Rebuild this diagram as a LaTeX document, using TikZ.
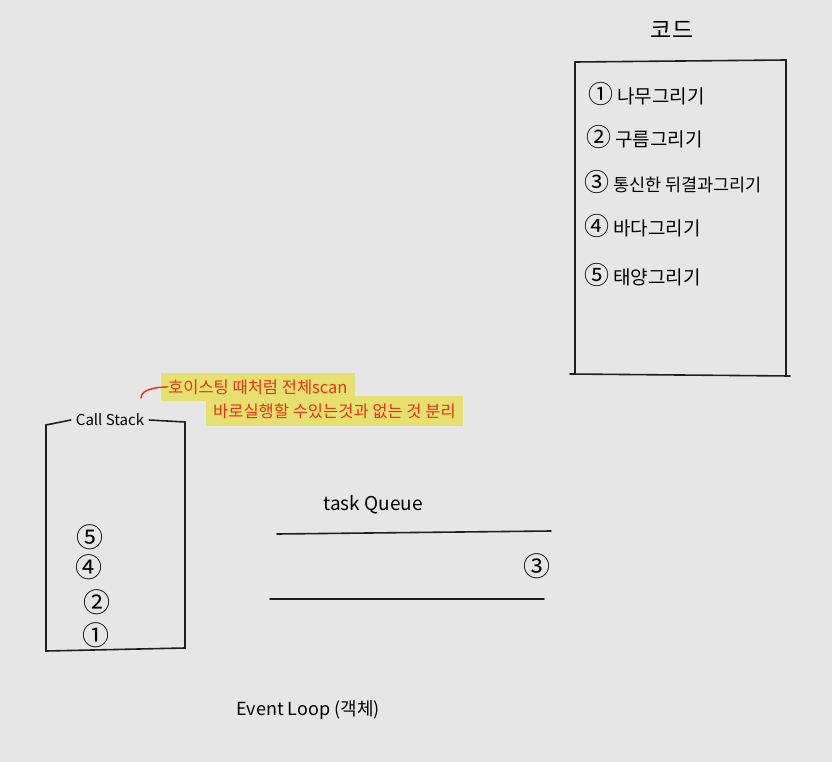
\documentclass[tikz,border=0pt]{standalone}
\usepackage{fontspec}
\setmainfont{Noto Sans CJK KR}
\usepackage{xcolor}
\usetikzlibrary{positioning,calc}
\definecolor{paper}{RGB}{230,230,230}
\definecolor{marker}{RGB}{230,224,112}
\definecolor{pen}{RGB}{238,48,22}
\newcommand\cnum[1]{{\fontsize{25}{25}\selectfont #1}}

\begin{document}
\begin{tikzpicture}[
  x=1pt, y=-1pt,
  font=\fontsize{19}{22}\selectfont,
  hand/.style={line width=1.6pt, line cap=round, black!88},
  item/.style={anchor=west, inner sep=1pt},
  num/.style={inner sep=0pt, font=\fontsize{27}{27}\selectfont},
  note/.style={text=pen, fill=marker, anchor=west, inner xsep=7pt, inner ysep=7pt, font=\fontsize{16.5}{19}\selectfont}
]
\fill[paper] (0,0) rectangle (832,762);
\useasboundingbox (0,0) rectangle (832,762);

% Code list
\node[font=\fontsize{23}{25}\selectfont] (code) at (672,30) {코드};
\draw[hand] (575,62) -- (786,60);
\draw[hand] (575,62) -- (575,374);
\draw[hand] (786,60) -- (786,375);
\draw[hand] (570,374) -- (790,376);
\node[item] (c1) at (587,94) {\cnum{①} 나무그리기};
\node[item] (c2) at (585,137) {\cnum{②} 구름그리기};
\node[item, font=\fontsize{17.5}{22}\selectfont] (c3) at (583,182) {\cnum{③} 통신한 뒤결과그리기};
\node[item] (c4) at (583,226) {\cnum{④} 바다그리기};
\node[item] (c5) at (583,275) {\cnum{⑤} 태양그리기};

% Note
\node[note] (n1) at (161,387) {호이스팅 때처럼 전체scan};
\node[note] (n2) at (206,411) {바로실행할 수있는것과 없는 것 분리};
\coordinate (lead) at (141,398);
\draw[pen, line width=1.4pt, line cap=round] (n1.west) ++(7,0) .. controls +(-14,0) and +(0,-8) .. (lead);

% Call Stack
\node[font=\fontsize{15}{18}\selectfont, inner xsep=5pt] (cs) at (110,420) {Call Stack};
\draw[hand] (cs.west) -- (46,425) -- (46,651) -- (185,648) -- (185,422) -- (cs.east);
\node[num] (s5) at (90,537) {⑤};
\node[num] (s4) at (89,567) {④};
\node[num] (s2) at (97,602) {②};
\node[num] (s1) at (96,635) {①};

% Task Queue
\node[font=\fontsize{19}{22}\selectfont] (tq) at (373,505) {task Queue};
\draw[hand] (277,534) -- (551,531);
\draw[hand] (270,599) -- (544,599);
\node[num] (q3) at (537,566) {③};

% Event Loop
\node[font=\fontsize{18}{22}\selectfont] (el) at (308,710) {Event Loop (객체)};
\end{tikzpicture}
\end{document}
